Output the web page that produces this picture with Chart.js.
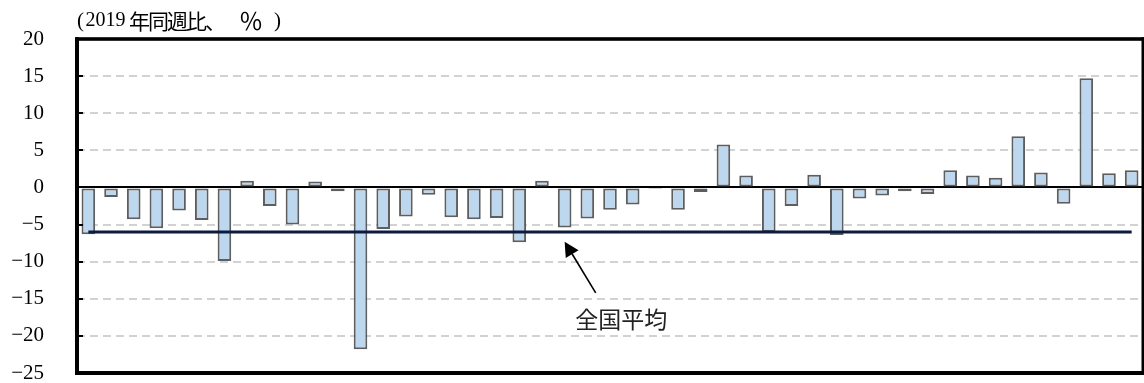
<!DOCTYPE html>
<html>
<head>
<meta charset="utf-8">
<script src="https://cdn.jsdelivr.net/npm/chart.js@4.4.1/dist/chart.umd.min.js"></script>
<style>
html,body{margin:0;padding:0;background:#fff;}
canvas{display:block;}
</style>
</head>
<body>
<canvas id="c" width="1144" height="383"></canvas>
<script>
// ---- data ----
const categories = ['北海道','青森','岩手','宮城','秋田','山形','福島','茨城','栃木','群馬',
  '埼玉','千葉','東京','神奈川','新潟','富山','石川','福井','山梨','長野',
  '岐阜','静岡','愛知','三重','滋賀','京都','大阪','兵庫','奈良','和歌山',
  '鳥取','島根','岡山','広島','山口','徳島','香川','愛媛','高知','福岡',
  '佐賀','長崎','熊本','大分','宮崎','鹿児島','沖縄'];
const changeValues = [-6.3, -1.3, -4.3, -5.5, -3.1, -4.4, -9.9, 0.9, -2.5, -5.0,
  0.8, -0.5, -21.8, -5.6, -3.9, -1.0, -4.0, -4.3, -4.1, -7.4,
  0.9, -5.4, -4.2, -3.0, -2.3, -0.2, -3.0, -0.6, 5.8, 1.6,
  -6.0, -2.5, 1.7, -6.4, -1.5, -1.1, -0.5, -0.9, 2.3, 1.6,
  1.3, 6.9, 2.0, -2.2, 14.7, 1.9, 2.3];
const nationalAverage = -6.0;
const yTickLabels = ['−25','−20','−15','−10','−5','0','5','10','15','20'];
const unitLabelParts = ['(', '2019', '年同週比、', '％', ')'];
const averageLabel = '全国平均';
const averageLabelAt = {x: 23.5, y: -17.8};
const arrowFrom = {x: 22.37, y: -14.2};
const arrowTo = {x: 21.0, y: -7.3};

const averageSeries = categories.map(() => nationalAverage);

const decor = {
  id: 'decor',
  afterDatasetsDraw(chart) {
    const {ctx, chartArea: a, scales: {x, y}} = chart;
    ctx.save();
    // inward tick marks
    ctx.strokeStyle = '#000';
    ctx.lineWidth = 2;
    y.ticks.forEach(t => {
      if (t.value === y.min || t.value === y.max) return;
      const py = Math.round(y.getPixelForValue(t.value));
      ctx.beginPath();
      ctx.moveTo(a.left, py);
      ctx.lineTo(a.left + 6, py);
      ctx.stroke();
    });
    // frame
    ctx.fillStyle = '#000';
    ctx.fillRect(a.left - 2, a.top - 1.8, a.right - a.left + 4, 3.6);
    ctx.fillRect(a.left - 2, a.top - 1.8, 4, a.bottom - a.top + 3.8);
    ctx.fillRect(a.left - 2, a.bottom - 2, a.right - a.left + 4, 4);
    ctx.fillRect(a.right - 1.5, a.top - 1.8, 3, a.bottom - a.top + 3.8);
    // arrow
    const x1 = x.getPixelForValue(arrowFrom.x), y1 = y.getPixelForValue(arrowFrom.y);
    const x2 = x.getPixelForValue(arrowTo.x), y2 = y.getPixelForValue(arrowTo.y);
    const dx = x2 - x1, dy = y2 - y1, len = Math.hypot(dx, dy);
    const ux = dx / len, uy = dy / len;
    const hl = 14.5, hw = 7.5;
    const bx = x2 - ux * hl, by = y2 - uy * hl;
    ctx.strokeStyle = '#000';
    ctx.lineWidth = 1.6;
    ctx.beginPath();
    ctx.moveTo(x1, y1);
    ctx.lineTo(bx, by);
    ctx.stroke();
    ctx.beginPath();
    ctx.moveTo(x2, y2);
    ctx.lineTo(bx - uy * hw, by + ux * hw);
    ctx.lineTo(bx + uy * hw, by - ux * hw);
    ctx.closePath();
    ctx.fill();
    // annotation text
    ctx.fillStyle = '#222';
    ctx.font = "23px 'Noto Sans CJK JP'";
    ctx.textAlign = 'center';
    ctx.textBaseline = 'middle';
    ctx.fillText(averageLabel, x.getPixelForValue(averageLabelAt.x), y.getPixelForValue(averageLabelAt.y));
    // unit title (Mincho-like spacing)
    ctx.fillStyle = '#000';
    ctx.textAlign = 'left';
    const ty = a.top - 18;
    const fonts = ["21px 'Liberation Serif'", "20px 'Liberation Serif'", "21px 'Noto Sans CJK JP'",
                   "24px 'Noto Sans CJK JP'", "21px 'Liberation Serif'"];
    const offs = [0, 8.5, 52, 162, 197];
    const spacing = ['0px', '0px', '-2px', '0px', '0px'];
    unitLabelParts.forEach((p, i) => {
      ctx.font = fonts[i];
      if ('letterSpacing' in ctx) ctx.letterSpacing = spacing[i];
      ctx.fillText(p, a.left + offs[i], ty);
    });
    if ('letterSpacing' in ctx) ctx.letterSpacing = '0px';
    ctx.restore();
  }
};

new Chart(document.getElementById('c'), {
  data: {
    labels: categories,
    datasets: [
      {
        type: 'line',
        data: averageSeries,
        borderColor: '#0c1b3f',
        borderWidth: 3,
        pointRadius: 0,
        fill: false,
        order: 0
      },
      {
        type: 'bar',
        data: changeValues,
        backgroundColor: '#bdd7ee',
        borderColor: '#5e5e5e',
        borderWidth: 2,
        borderSkipped: false,
        barPercentage: 0.6,
        categoryPercentage: 1.0,
        order: 1
      }
    ]
  },
  options: {
    responsive: false,
    animation: false,
    devicePixelRatio: 1,
    layout: { padding: { left: 0, right: 1, top: 39, bottom: 10 } },
    plugins: { legend: { display: false }, tooltip: { enabled: false }, title: { display: false } },
    scales: {
      x: { display: false, offset: true },
      y: {
        min: -25, max: 20,
        ticks: {
          stepSize: 5,
          padding: 33,
          color: '#000',
          font: { family: "'Liberation Serif', serif", size: 21, lineHeight: 1 },
          callback: (v, i) => yTickLabels[i]
        },
        grid: {
          drawTicks: false,
          color: c => c.tick.value === 0 ? '#000' : (c.tick.value === 20 || c.tick.value === -25 ? 'rgba(0,0,0,0)' : '#d2d2d2'),
          lineWidth: c => 2
        },
        border: {
          display: false,
          dash: c => (c.tick && c.tick.value === 0) ? [] : [8, 5],
          dashOffset: 0
        },
        afterFit: s => { s.width = 77; s.paddingTop = 0; s.paddingBottom = 0; }
      }
    }
  },
  plugins: [decor]
});
</script>
</body>
</html>
